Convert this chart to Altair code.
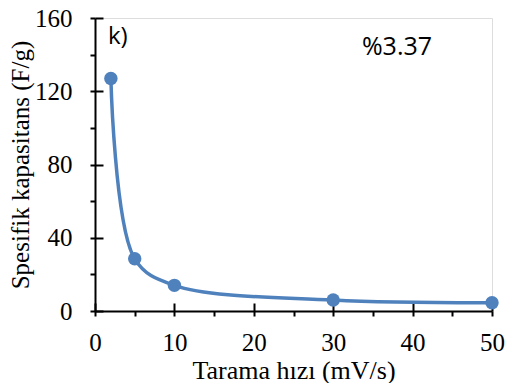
import altair as alt
import pandas as pd

scan_rate = [2, 5, 10, 30, 50]
capacitance = [127, 28.5, 14, 6, 4.5]
x_ticks = [0, 5, 10, 15, 20, 25, 30, 35, 40, 45, 50]
x_major = [0, 10, 20, 30, 40, 50]
y_ticks = [0, 20, 40, 60, 80, 100, 120, 140, 160]
y_major = [0, 40, 80, 120, 160]
panel_label = "k)"
percent_label = "%3.37"

df = pd.DataFrame({"x": scan_rate, "y": capacitance})
color = "#4f81bd"
serif = "Liberation Serif"

xs = alt.Scale(domain=[0, 50], nice=False, zero=True)
ys = alt.Scale(domain=[0, 160], nice=False)

base = alt.Chart(df)

line = base.mark_line(interpolate="catmull-rom", color=color, strokeWidth=3.5).encode(
    x=alt.X("x:Q", scale=xs, title="Tarama hızı (mV/s)",
            axis=alt.Axis(orient="bottom", values=x_ticks, grid=False, domainColor="black",
                          domainWidth=2, tickColor="black", tickWidth=2, tickSize=5,
                          labelExpr="datum.value % 10 == 0 ? datum.label : ''",
                          labelFont=serif, labelFontSize=25, labelColor="black",
                          labelPadding=14, labelFlush=False, titleFont=serif, titleFontSize=26,
                          titleFontWeight="normal", titleColor="black", titlePadding=2)),
    y=alt.Y("y:Q", scale=ys, title="Spesifik kapasitans (F/g)",
            axis=alt.Axis(orient="left", values=y_ticks, grid=False, domainColor="black",
                          domainWidth=2, tickColor="black", tickWidth=2, tickSize=5,
                          labelExpr="datum.value % 40 == 0 ? datum.label : ''",
                          labelFont=serif, labelFontSize=25, labelColor="black",
                          labelPadding=18, labelFlush=False, titleFont=serif, titleFontSize=25,
                          titleFontWeight="normal", titleColor="black", titlePadding=1)),
)

# inward half of the crossing major ticks
points = base.mark_circle(color=color, size=180, opacity=1).encode(
    x=alt.X("x:Q", scale=xs, title=None,
            axis=alt.Axis(orient="bottom", values=x_major, grid=False, domain=False,
                          labels=False, tickColor="black", tickWidth=2, tickSize=8, offset=-8)),
    y=alt.Y("y:Q", scale=ys, title=None,
            axis=alt.Axis(orient="left", values=y_major, grid=False, domain=False,
                          labels=False, tickColor="black", tickWidth=2, tickSize=8, offset=-8)),
)

lab1 = alt.Chart(pd.DataFrame({"t": [panel_label]})).mark_text(
    font="Open Sans", fontSize=24, align="left", baseline="middle", color="black"
).encode(text="t:N", x=alt.value(13), y=alt.value(19))

lab2 = alt.Chart(pd.DataFrame({"t": [percent_label]})).mark_text(
    font="Open Sans", fontSize=25, align="center", baseline="middle", color="black"
).encode(text="t:N", x=alt.value(302), y=alt.value(29))

chart = alt.layer(line, points, lab1, lab2).resolve_axis(
    x="independent", y="independent"
).properties(
    width=397, height=293,
    autosize=alt.AutoSizeParams(type="none"),
    padding={"left": 87, "top": 10, "right": 20, "bottom": 72},
).configure_view(stroke=None).configure(background="white")

chart.save("out.html", embed_options={"renderer": "svg", "actions": False})
